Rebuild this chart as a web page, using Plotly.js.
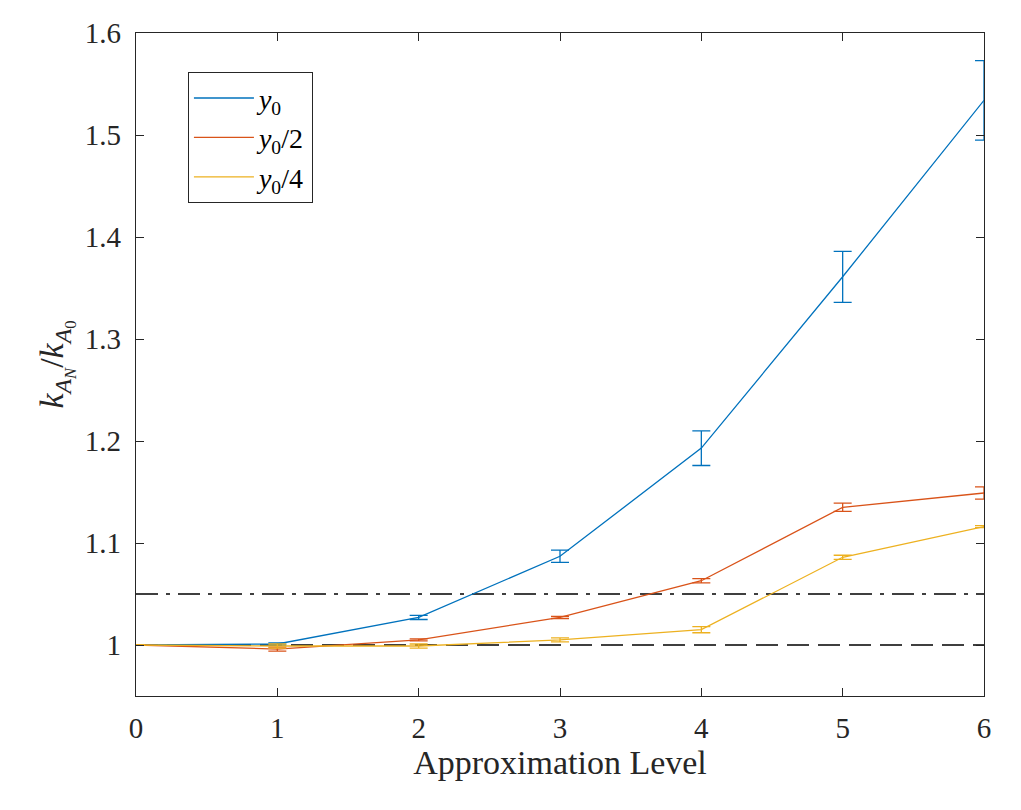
<!DOCTYPE html>
<html>
<head>
<meta charset="utf-8">
<script src="https://cdn.plot.ly/plotly-3.0.1.min.js"></script>
<style>
  html, body { margin: 0; padding: 0; background: #fff; }
  #chart { width: 1021px; height: 810px; }
</style>
</head>
<body>
<div id="chart"></div>
<script>
// approximation levels
const levels = [0, 1, 2, 3, 4, 5, 6];

// k_AN / k_A0 per series, with error bar half-widths
const ratioY0 = [1.000, 1.001, 1.027, 1.087, 1.193, 1.361, 1.534];
const errY0 = [0.000, 0.001, 0.002, 0.006, 0.017, 0.025, 0.039];

const ratioY0half = [1.000, 0.996, 1.005, 1.027, 1.063, 1.135, 1.149];
const errY0half = [0.000, 0.002, 0.001, 0.001, 0.002, 0.004, 0.006];

const ratioY0quarter = [1.000, 0.999, 0.999, 1.005, 1.015, 1.086, 1.116];
const errY0quarter = [0.000, 0.002, 0.002, 0.002, 0.003, 0.002, 0.001];

const seriesNames = ["<i>y</i><sub>0</sub>", "<i>y</i><sub>0</sub>/2", "<i>y</i><sub>0</sub>/4"];
const seriesColors = ["#0072BD", "#D95319", "#EDB120"];

// horizontal reference levels: dashed at 1, dash-dot at 1.05
const refLevels = [1, 1.05];
const refDash = ["22px,9px", "22px,8px,4px,8px"];

const yTicks = [1, 1.1, 1.2, 1.3, 1.4, 1.5, 1.6];
const yTickText = ["1", "1.1", "1.2", "1.3", "1.4", "1.5", "1.6"];

const serif = '"Liberation Serif", "Times New Roman", Times, serif';

function makeTrace(y, err, i) {
  return {
    x: levels,
    y: y,
    type: "scatter",
    mode: "lines",
    name: seriesNames[i],
    line: { color: seriesColors[i], width: 1.3 },
    error_y: {
      type: "data",
      array: err,
      visible: true,
      color: seriesColors[i],
      thickness: 1.3,
      width: 9,
    },
    cliponaxis: false,
  };
}

const data = [
  makeTrace(ratioY0, errY0, 0),
  makeTrace(ratioY0half, errY0half, 1),
  makeTrace(ratioY0quarter, errY0quarter, 2),
];

const shapes = refLevels.map((v, i) => ({
  type: "line",
  xref: "paper",
  yref: "y",
  x0: 0,
  x1: 1,
  y0: v,
  y1: v,
  line: { color: "#000", width: 1.3, dash: refDash[i] },
  layer: "below",
}));

const layout = {
  width: 1021,
  height: 810,
  margin: { l: 136, r: 37, t: 33, b: 114 },
  paper_bgcolor: "#fff",
  plot_bgcolor: "#fff",
  font: { family: serif, color: "#262626", size: 29 },
  showlegend: true,
  legend: {
    x: 0.061,
    y: 0.941,
    xanchor: "left",
    yanchor: "top",
    bgcolor: "#fff",
    bordercolor: "#262626",
    borderwidth: 1.2,
    font: { family: serif, size: 28, color: "#000" },
    tracegroupgap: 0,
    itemwidth: 60,
  },
  xaxis: {
    range: [0, 6],
    tickvals: levels,
    ticks: "inside",
    ticklen: 8,
    tickcolor: "#262626",
    showline: true,
    linecolor: "#262626",
    linewidth: 1.3,
    mirror: "ticks",
    showgrid: false,
    zeroline: false,
    ticklabelstandoff: 6,
    tickfont: { family: serif, size: 29, color: "#262626" },
    title: { text: "Approximation Level", font: { family: serif, size: 34, color: "#262626" }, standoff: 6 },
    automargin: false,
  },
  yaxis: {
    range: [0.95, 1.6],
    tickvals: yTicks,
    ticktext: yTickText,
    ticks: "inside",
    ticklen: 8,
    tickcolor: "#262626",
    showline: true,
    linecolor: "#262626",
    linewidth: 1.3,
    mirror: "ticks",
    showgrid: false,
    zeroline: false,
    ticklabelstandoff: 8,
    tickfont: { family: serif, size: 29, color: "#262626" },
    title: {
      text: "<i>k</i><sub><i>A<sub>N</sub></i></sub>/<i>k</i><sub><i>A</i><sub>0</sub></sub>",
      font: { family: serif, size: 34, color: "#262626" },
      standoff: 10,
    },
    automargin: false,
  },
  shapes: shapes,
};

Plotly.newPlot("chart", data, layout, { displayModeBar: false, staticPlot: true });
</script>
</body>
</html>
